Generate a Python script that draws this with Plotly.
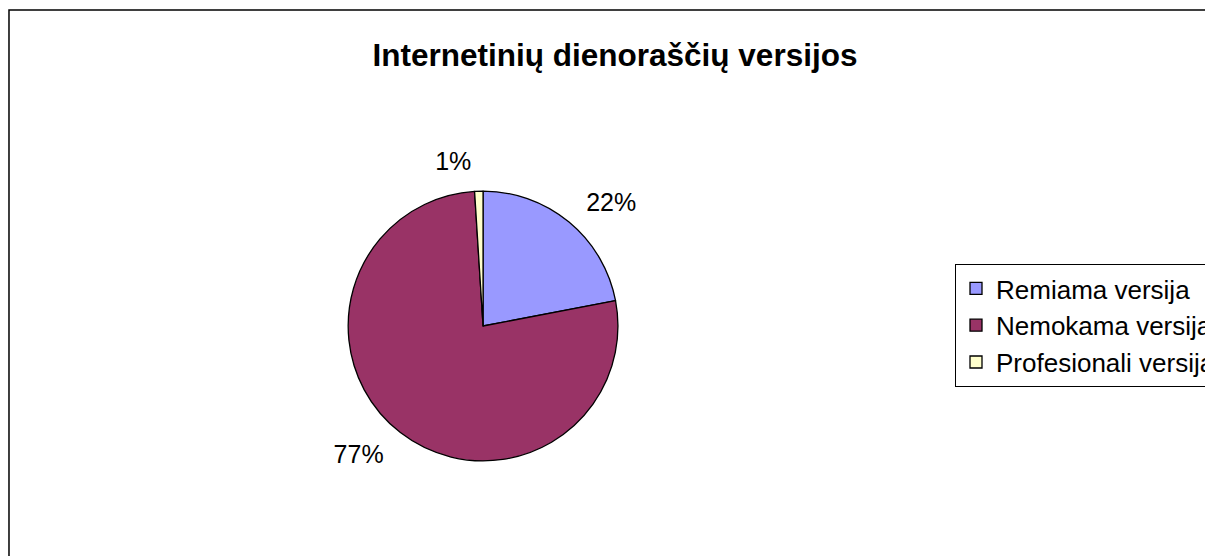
import plotly.graph_objects as go

categories = ["Remiama versija", "Nemokama versija", "Profesionali versija"]
values = [22, 77, 1]
colors = ["#9999FF", "#993366", "#FFFFCC"]
title_text = "Internetinių dienoraščių versijos"

W, H = 1213, 556
OFF = 8  # page body margin in the browser

cx, cy, r = 487 - OFF, 326 - OFF, 136
r_lab = 152  # labels sit a little away from the pie edge


def dom(rad):
    return dict(x=[(cx - rad) / W, (cx + rad) / W], y=[1 - (cy + rad) / H, 1 - (cy - rad) / H])


font_family = "Liberation Sans, Arial, sans-serif"

# transparent carrier for the outside percentage labels
label_pie = go.Pie(
    labels=categories,
    values=values,
    sort=False,
    direction="clockwise",
    rotation=0,
    marker=dict(colors=["rgba(0,0,0,0)"] * len(values), line=dict(width=0)),
    texttemplate="%{percent:.0%}",
    textposition="outside",
    outsidetextfont=dict(family=font_family, size=25, color="#000000"),
    domain=dom(r_lab),
    automargin=False,
    showlegend=False,
    hoverinfo="skip",
)

main_pie = go.Pie(
    labels=categories,
    values=values,
    sort=False,
    direction="clockwise",
    rotation=0,
    marker=dict(colors=colors, line=dict(color="#000000", width=1.3)),
    textinfo="none",
    domain=dom(r),
    automargin=False,
    showlegend=True,
)

fig = go.Figure([label_pie, main_pie])

fig.update_layout(
    width=W,
    height=H,
    margin=dict(l=0, r=0, t=0, b=0),
    paper_bgcolor="white",
    plot_bgcolor="white",
    font=dict(family=font_family, color="#000000"),
    title=dict(
        text="<b>" + title_text + "</b>",
        x=(615 - OFF) / W,
        xanchor="center",
        y=1 - (55 - OFF) / H,
        yanchor="middle",
        font=dict(size=31.5, family=font_family, color="#000000"),
    ),
    legend=dict(
        x=(963 - OFF) / W,
        xanchor="left",
        y=1 - (264 - OFF) / H,
        yanchor="top",
        bordercolor="#000000",
        borderwidth=1,
        bgcolor="white",
        font=dict(size=26, family=font_family, color="#000000"),
    ),
    shapes=[
        dict(
            type="rect",
            xref="paper",
            yref="paper",
            x0=(8 - OFF + 1) / W,
            x1=1.02,
            y0=1 - (10 - OFF) / H,
            y1=-0.02,
            line=dict(color="#000000", width=1.5),
            fillcolor="rgba(0,0,0,0)",
            layer="below",
        )
    ],
)

fig.write_html("out.html")
